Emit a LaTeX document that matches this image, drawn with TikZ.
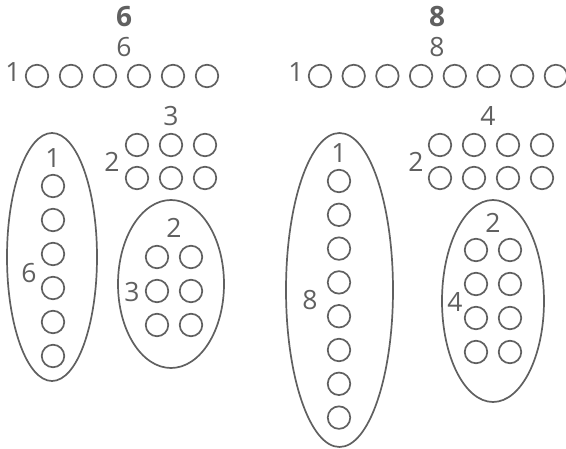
\documentclass[tikz,border=0pt]{standalone}
\usepackage{fontspec}
\setmainfont{Open Sans}
\usetikzlibrary{shapes.geometric}
\definecolor{dotgray}{RGB}{96,96,96}

\begin{document}
\begin{tikzpicture}[x=1pt,y=-1pt,line width=1.7pt,dotgray,
  dot/.style={circle,draw,minimum size=22.5pt,inner sep=0pt},
  group/.style={ellipse,draw,inner sep=0pt},
  num/.style={font=\fontsize{26.5}{26.5}\selectfont,inner sep=0pt},
  total/.style={font=\fontsize{28}{28}\selectfont\bfseries,inner sep=0pt}]
  \useasboundingbox (0,0) rectangle (566,449);

  % six
  \node[total] (tot6) at (124,17) {6};
  \node[num] (row6n) at (124,47) {6};
  \node[num] (row6one) at (13,72) {1};
  \foreach \i in {1,...,6}
    \node[dot] (a\i) at ({3+34*\i},76) {};

  \node[num] (grid6n) at (171,116) {3};
  \node[num] (grid6two) at (112,162) {2};
  \foreach \i in {1,2,3}
    \foreach \j in {0,1}
      \node[dot] (g\i\j) at ({103+34*\i},{145+33*\j}) {};

  \node[group, minimum width=90pt, minimum height=248pt] (col6) at (52,257) {};
  \node[num] (col6one) at (53,158) {1};
  \node[num] (col6n) at (29,273) {6};
  \foreach \i in {1,...,6}
    \node[dot] (c\i) at (53,{152+34*\i}) {};

  \node[group, minimum width=106pt, minimum height=168pt] (blk6) at (171,284) {};
  \node[num] (blk6two) at (174,228) {2};
  \node[num] (blk6n) at (132,292) {3};
  \foreach \i in {1,2,3}
    \foreach \j in {0,1}
      \node[dot] (k\i\j) at ({157+34*\j},{223+34*\i}) {};

  % eight
  \node[total] (tot8) at (437,17) {8};
  \node[num] (row8n) at (437,47) {8};
  \node[num] (row8one) at (296,72) {1};
  \foreach \i in {1,...,8}
    \node[dot] (b\i) at ({286.3+33.7*\i},76) {};

  \node[num] (grid8n) at (488,116) {4};
  \node[num] (grid8two) at (416,162) {2};
  \foreach \i in {1,...,4}
    \foreach \j in {0,1}
      \node[dot] (h\i\j) at ({406+34*\i},{145+33*\j}) {};

  \node[group, minimum width=107pt, minimum height=314pt] (col8) at (339.5,290) {};
  \node[num] (col8one) at (339,153) {1};
  \node[num] (col8n) at (310,300) {8};
  \foreach \i in {1,...,8}
    \node[dot] (d\i) at (339,{147.2+33.8*\i}) {};

  \node[group, minimum width=102pt, minimum height=202pt] (blk8) at (493,301) {};
  \node[num] (blk8two) at (493,223) {2};
  \node[num] (blk8n) at (455,302) {4};
  \foreach \i in {1,...,4}
    \foreach \j in {0,1}
      \node[dot] (m\i\j) at ({476+34*\j},{216+34*\i}) {};
\end{tikzpicture}
\end{document}
